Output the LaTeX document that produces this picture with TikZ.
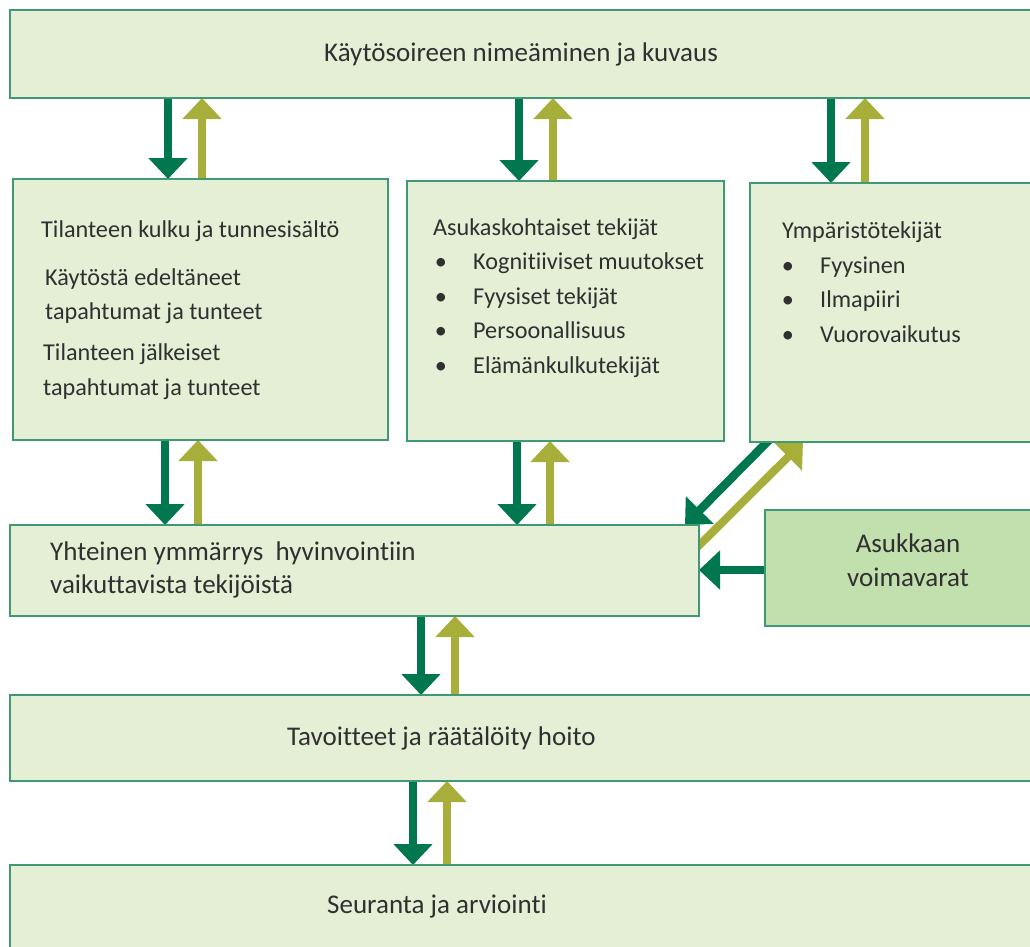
\documentclass[tikz,border=0pt]{standalone}
\usepackage{fontspec}
\setmainfont{Carlito}[Ligatures=NoCommon]
\usetikzlibrary{arrows.meta}
\definecolor{boxfill}{HTML}{E4EFD6}
\definecolor{boxfillstrong}{HTML}{C2DFAE}
\definecolor{boxline}{HTML}{3F9A74}
\definecolor{arrowdark}{HTML}{00774F}
\definecolor{arrowolive}{HTML}{A7AE39}
\definecolor{ink}{HTML}{303030}
\pgfdeclarelayer{back}
\pgfsetlayers{back,main}

\begin{document}
\begin{tikzpicture}[x=1pt,y=-1pt,
  box/.style={draw=boxline, fill=boxfill, line width=1.5pt, inner sep=0pt,
              outer sep=0pt, anchor=north west},
  txt/.style={anchor=base west, inner sep=0pt, text=ink,
              font=\fontsize{27}{32}\selectfont},
  stxt/.style={txt, font=\fontsize{24.2}{29}\selectfont},
  ctxt/.style={txt, anchor=base},
  bul/.style={stxt, anchor=base},
  darr/.style={draw=arrowdark, line width=8.5pt,
               -{Triangle[width=38pt,length=21pt]}},
  oarr/.style={draw=arrowolive, line width=8pt,
               -{Triangle[width=38pt,length=21pt]}}]

\useasboundingbox (0,0) rectangle (1030,946);
\clip (0,0) rectangle (1030,946);

% boxes
\node[box, minimum width=1040pt, minimum height=88pt]  (top) at (10,10)  {};
\node[box, minimum width=375pt,  minimum height=261pt] (b2)  at (13,179) {};
\node[box, minimum width=317pt,  minimum height=260pt] (b3)  at (407,181) {};
\node[box, minimum width=300pt,  minimum height=259pt] (b4)  at (750,183) {};
\node[box, minimum width=689pt,  minimum height=91pt]  (b5)  at (10,525) {};
\node[box, fill=boxfillstrong, minimum width=300pt, minimum height=116pt] (b6) at (765,510) {};
\node[box, minimum width=1040pt, minimum height=86pt]  (b7)  at (10,695) {};
\node[box, minimum width=1040pt, minimum height=100pt] (b8)  at (10,865) {};

% texts
\node[ctxt] (ttop) at (521,61) {Käytösoireen nimeäminen ja kuvaus};

\node[stxt] (t21) at (41,237) {Tilanteen kulku ja tunnesisältö};
\node[stxt] (t22) at (45,285) {Käytöstä edeltäneet};
\node[stxt] (t23) at (45,319) {tapahtumat ja tunteet};
\node[stxt] (t24) at (43,360) {Tilanteen jälkeiset};
\node[stxt] (t25) at (43,395) {tapahtumat ja tunteet};

\node[stxt] (t31) at (433,235) {Asukaskohtaiset tekijät};
\foreach \y/\t [count=\i] in {269/Kognitiiviset muutokset, 304/Fyysiset tekijät,
                              338/Persoonallisuus, 373/Elämänkulkutekijät}{
  \node[bul] (b3b\i) at (441,\y) {•};
  \node[stxt] (b3t\i) at (473,\y) {\t};
}

\node[stxt] (t41) at (782,238) {Ympäristötekijät};
\foreach \y/\t [count=\i] in {273/Fyysinen, 307/Ilmapiiri, 342/Vuorovaikutus}{
  \node[bul] (b4b\i) at (788,\y) {•};
  \node[stxt] (b4t\i) at (820,\y) {\t};
}

\node[txt] (t51) at (50,560) {Yhteinen ymmärrys\ \ hyvinvointiin};
\node[txt] (t52) at (50,593) {vaikuttavista tekijöistä};

\node[ctxt] (t61) at (908,552) {Asukkaan};
\node[ctxt] (t62) at (908,586) {voimavarat};

\node[txt] (t71) at (287,745) {Tavoitteet ja räätälöity hoito};
\node[txt] (t81) at (327,913) {Seuranta ja arviointi};

% arrow columns
\coordinate (d1) at (168,0); \coordinate (o1) at (202,0);
\coordinate (d2) at (519,0); \coordinate (o2) at (553,0);
\coordinate (d3) at (831,0); \coordinate (o3) at (865,0);
\coordinate (d4) at (165,0); \coordinate (o4) at (198,0);
\coordinate (d5) at (517,0); \coordinate (o5) at (550,0);
\coordinate (d6) at (421,0); \coordinate (o6) at (455,0);
\coordinate (d7) at (413,0); \coordinate (o7) at (447,0);

\begin{pgfonlayer}{back}
  \draw[darr] (d1 |- top.south) -- (d1 |- b2.north);
  \draw[oarr] (o1 |- b2.north) -- (o1 |- top.south);
  \draw[darr] (d2 |- top.south) -- (d2 |- b3.north);
  \draw[oarr] (o2 |- b3.north) -- (o2 |- top.south);
  \draw[darr] (d3 |- top.south) -- (d3 |- b4.north);
  \draw[oarr] (o3 |- b4.north) -- (o3 |- top.south);

  \draw[darr] (d4 |- b2.south) -- (d4 |- b5.north);
  \draw[oarr] (o4 |- b5.north) -- (o4 |- b2.south);
  \draw[darr] (d5 |- b3.south) -- (d5 |- b5.north);
  \draw[oarr] (o5 |- b5.north) -- (o5 |- b3.south);

  \draw[darr] ([xshift=27pt,yshift=10pt]b4.south west) -- ([xshift=-14pt]b5.north east);
  \draw[oarr] ([xshift=-10pt,yshift=15pt]b5.east) -- ([xshift=53pt]b4.south west);
  \draw[darr] ([yshift=-2pt]b6.west) -- ([yshift=-2pt]b6.west -| b5.east);

  \draw[darr] (d6 |- b5.south) -- (d6 |- b7.north);
  \draw[oarr] (o6 |- b7.north) -- (o6 |- b5.south);
  \draw[darr] (d7 |- b7.south) -- (d7 |- b8.north);
  \draw[oarr] (o7 |- b8.north) -- (o7 |- b7.south);
\end{pgfonlayer}
\end{tikzpicture}
\end{document}
